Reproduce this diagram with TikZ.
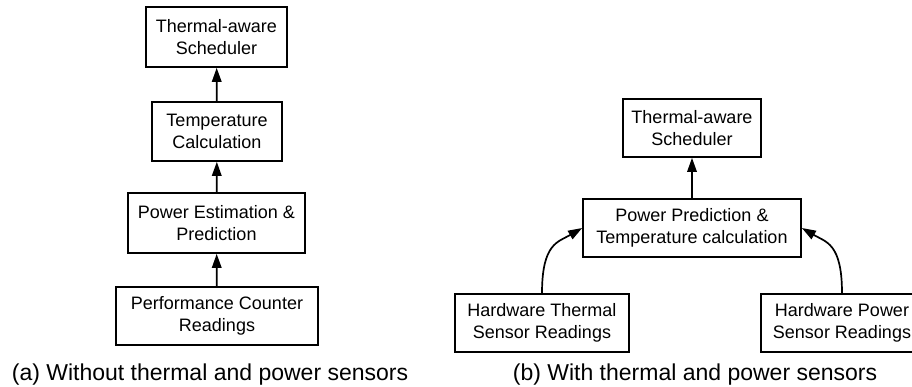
\documentclass[tikz,border=0pt]{standalone}
\usepackage{fontspec}
\setmainfont{Liberation Sans}
\usetikzlibrary{arrows.meta}
\tikzset{
  blk/.style={draw, line width=1.7pt, inner sep=0pt, align=center,
    font=\fontsize{18}{22}\selectfont},
  captxt/.style={inner sep=0pt, anchor=base, font=\fontsize{23}{27}\selectfont},
  arr/.style={line width=1.7pt, -{Triangle[length=14pt,width=9.5pt]}}
}
\begin{document}
\begin{tikzpicture}[x=1pt,y=-1pt]
\clip (0,0) rectangle (912,386);
% (a)
\node[blk, minimum width=141pt, minimum height=60pt] (a1) at (216.5,37) {Thermal-aware\\Scheduler};
\node[blk, minimum width=130pt, minimum height=59pt] (a2) at (217,131.5) {Temperature\\Calculation};
\node[blk, minimum width=177pt, minimum height=60pt] (a3) at (216.5,223) {Power Estimation \&\\Prediction};
\node[blk, minimum width=202pt, minimum height=58pt] (a4) at (217,316) {Performance Counter\\Readings};
\draw[arr] (a2) -- (a1);
\draw[arr] (a3) -- (a2);
\draw[arr] (a4) -- (a3);
\node[captxt] (ca) at (210,380) {(a) Without thermal and power sensors};
% (b)
\node[blk, minimum width=138pt, minimum height=58pt] (b1) at (692,128) {Thermal-aware\\Scheduler};
\node[blk, minimum width=218pt, minimum height=58pt] (b2) at (692,228) {Power Prediction \&\\Temperature calculation};
\node[blk, minimum width=174pt, minimum height=58pt] (b3) at (542,323) {Hardware Thermal\\Sensor Readings};
\node[blk, minimum width=162pt, minimum height=58pt] (b4) at (842,323) {Hardware Power\\Sensor Readings};
\draw[arr] (b2) -- (b1);
\draw[arr] (b3.north) .. controls +(0,-50) and +(-24,14) .. (b2.west);
\draw[arr] (b4.north) .. controls +(0,-50) and +(24,14) .. (b2.east);
\node[captxt] (cb) at (695,380) {(b) With thermal and power sensors};
\end{tikzpicture}
\end{document}
